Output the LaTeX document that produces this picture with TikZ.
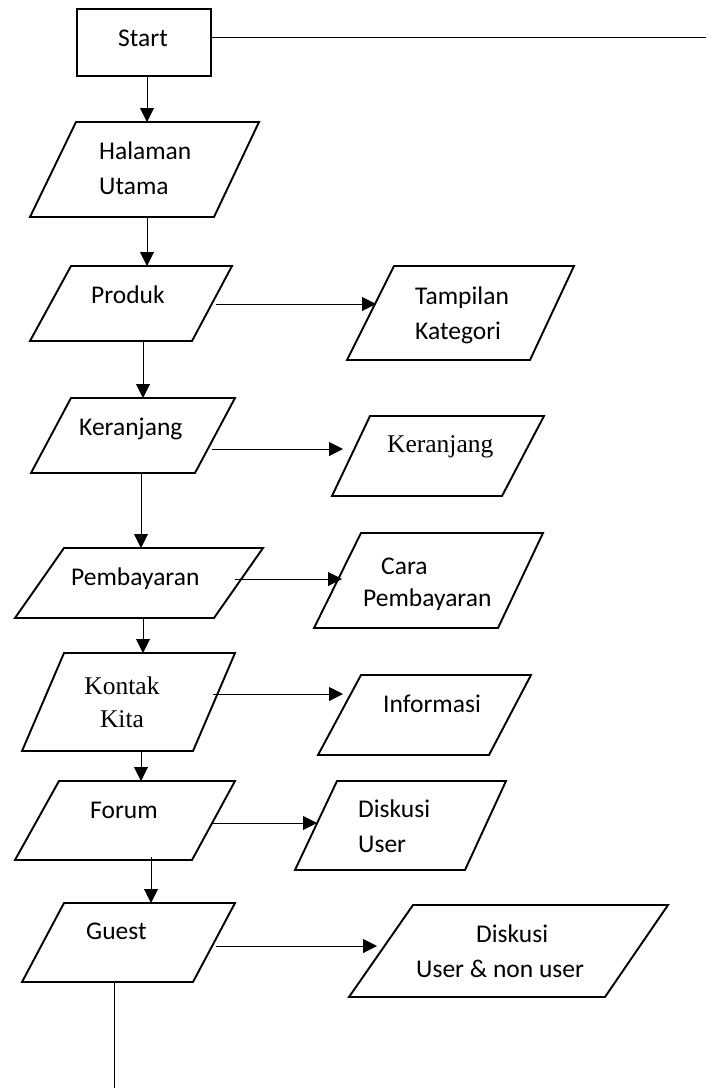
\documentclass[tikz,border=0pt]{standalone}
\usepackage{fontspec}
\setmainfont{Carlito}
\newfontfamily\timesface{Liberation Serif}
\usetikzlibrary{arrows.meta}
\begin{document}
\begin{tikzpicture}[x=1pt,y=-1pt,
  box/.style={draw,line width=1.9pt,line join=miter},
  link/.style={line width=1pt,-{Triangle[length=14pt,width=14pt]}},
  plain/.style={line width=1pt},
  txt/.style={inner sep=0pt,anchor=base west,align=left,
    font=\fontsize{25.5}{34.5}\selectfont},
  txtc/.style={txt,anchor=base,align=center}]

\useasboundingbox (0,0) rectangle (709,1088);

% ---------- shapes ----------
\draw[box] (77,9) rectangle (211,76);
\draw[box] (76,122) -- (259,122) -- (214,217) -- (30,217) -- cycle;   % Halaman Utama
\draw[box] (71,266) -- (232,266) -- (192,341) -- (30,341) -- cycle;   % Produk
\draw[box] (394,266) -- (574,266) -- (530,360) -- (347,360) -- cycle; % Tampilan Kategori
\draw[box] (71,398) -- (235,398) -- (195,473) -- (31,473) -- cycle;   % Keranjang
\draw[box] (370,416) -- (544,416) -- (502,496) -- (332,496) -- cycle; % Keranjang (view)
\draw[box] (64,548) -- (263,548) -- (214,618) -- (15,618) -- cycle;   % Pembayaran
\draw[box] (361,533) -- (543,533) -- (498,628) -- (314,628) -- cycle; % Cara Pembayaran
\draw[box] (64,653) -- (235,653) -- (193,751) -- (22,751) -- cycle;   % Kontak Kita
\draw[box] (361,675) -- (531,675) -- (489,755) -- (318,755) -- cycle; % Informasi
\draw[box] (59,781) -- (235,781) -- (192,860) -- (15,860) -- cycle;   % Forum
\draw[box] (337,781) -- (506,781) -- (465,870) -- (295,870) -- cycle; % Diskusi User
\draw[box] (64,903) -- (235,903) -- (193,982) -- (22,982) -- cycle;   % Guest
\draw[box] (413,905) -- (668,905) -- (605,997) -- (349,997) -- cycle; % Diskusi User & non user

% ---------- labels (multi-line labels sit on their last baseline) ----------
\node[txtc] (tstart) at (143,46) {Start};
\node[txt] (thalaman) at (99,194) {Halaman\\Utama};
\node[txt] (tproduk) at (91,303) {Produk};
\node[txt] (ttampilan) at (415,339) {Tampilan\\Kategori};
\node[txt] (tkeranjang) at (79,435) {Keranjang};
\node[txt,font=\timesface\fontsize{25.5}{34}\selectfont] (tkeranjangv) at (387,452) {Keranjang};
\node[txt] (tbayar) at (71,585) {Pembayaran};
\node[txt,font=\fontsize{25.5}{32}\selectfont] (tcara) at (363,606) {\hspace{18pt}Cara\\Pembayaran};
\node[txtc,font=\timesface\fontsize{25.5}{33}\selectfont] (tkontak) at (122,727) {Kontak\\Kita};
\node[txt] (tinfo) at (383,712) {Informasi};
\node[txt] (tforum) at (90,818) {Forum};
\node[txt] (tdiskusi) at (358,852) {Diskusi\\User};
\node[txt] (tguest) at (86,939) {Guest};
\node[txt] (tdiskusi2) at (416,977) {\hspace{60pt}Diskusi\\User \& non user};

% ---------- connector end points ----------
\coordinate (s1) at (147,76);   \coordinate (e1) at (147,122);
\coordinate (s2) at (147,217);  \coordinate (e2) at (147,266);
\coordinate (s3) at (216,304);  \coordinate (e3) at (376,304);
\coordinate (s4) at (143,341);  \coordinate (e4) at (143,398);
\coordinate (s5) at (212,449);  \coordinate (e5) at (343,449);
\coordinate (s6) at (141,473);  \coordinate (e6) at (141,548);
\coordinate (s7) at (235,579);  \coordinate (e7) at (342,579);
\coordinate (s8) at (143,618);  \coordinate (e8) at (143,653);
\coordinate (s9) at (213,694);  \coordinate (e9) at (343,694);
\coordinate (s10) at (141,751); \coordinate (e10) at (141,781);
\coordinate (s11) at (213,823); \coordinate (e11) at (317,823);
\coordinate (s12) at (151,857); \coordinate (e12) at (151,903);
\coordinate (s13) at (216,946); \coordinate (e13) at (377,946);
\coordinate (r0) at (211,37);   \coordinate (r1) at (706,37);
\coordinate (g0) at (114,982);  \coordinate (g1) at (114,1088);

% ---------- connectors ----------
\draw[plain] (r0) -- (r1);
\foreach \i in {1,...,13} \draw[link] (s\i) -- (e\i);
\draw[plain] (g0) -- (g1);
\end{tikzpicture}
\end{document}
